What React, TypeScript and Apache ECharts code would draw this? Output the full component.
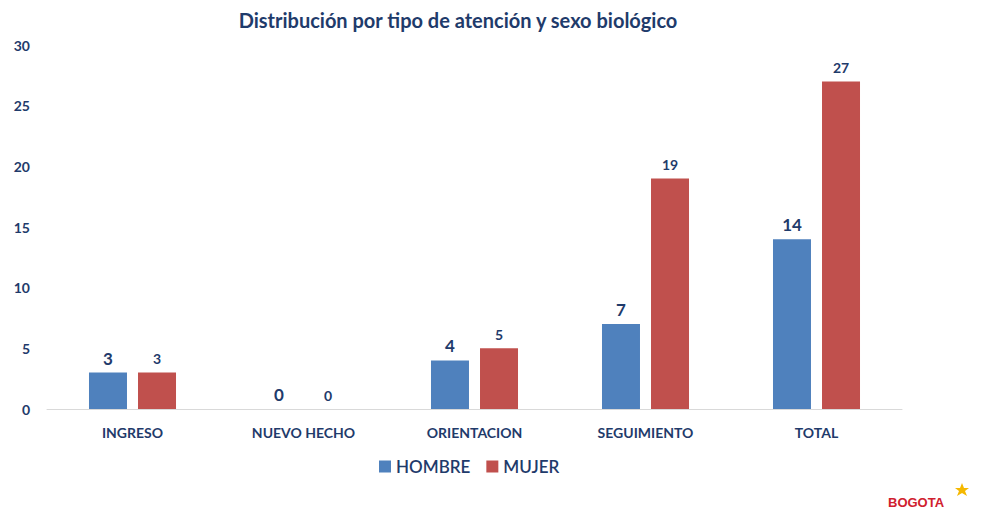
import React, { useEffect, useRef } from "react";
import * as echarts from "echarts";

const categories = ["INGRESO", "NUEVO HECHO", "ORIENTACION", "SEGUIMIENTO", "TOTAL"];
const hombre = [3, 0, 4, 7, 14];
const mujer = [3, 0, 5, 19, 27];
const yTicks = [0, 5, 10, 15, 20, 25, 30];

const NAVY = "#1f3b6b";
const FONT = "Lato, 'Open Sans', sans-serif";

export default function App() {
  const ref = useRef<HTMLDivElement>(null);
  useEffect(() => {
    if (!ref.current) return;
    const chart = echarts.init(ref.current, null, { renderer: "svg" });
    chart.setOption({
      animation: false,
      backgroundColor: "#ffffff",
      title: {
        text: "Distribución por tipo de atención y sexo biológico",
        left: 453,
        textAlign: "center",
        top: 5,
        textStyle: { color: NAVY, fontSize: 20, fontWeight: "bold", fontFamily: FONT },
      },
      grid: { left: 47, right: 80, top: 45, bottom: 102 },
      legend: {
        data: ["HOMBRE", "MUJER"],
        left: 374,
        top: 453,
        itemWidth: 12,
        itemHeight: 12,
        itemGap: 16,
        icon: "rect",
        textStyle: { color: NAVY, fontSize: 17, fontWeight: 600, fontFamily: FONT },
      },
      xAxis: {
        type: "category",
        data: categories,
        axisLine: { show: true, lineStyle: { color: "#d9d9d9", width: 1 } },
        axisTick: { show: false },
        axisLabel: { color: NAVY, fontSize: 14, fontWeight: "bold", fontFamily: FONT, margin: 16 },
      },
      yAxis: {
        type: "value",
        min: yTicks[0],
        max: yTicks[yTicks.length - 1],
        interval: 5,
        axisLine: { show: false },
        axisTick: { show: false },
        splitLine: { show: false },
        axisLabel: { color: NAVY, fontSize: 14, fontWeight: "bold", fontFamily: FONT, margin: 17 },
      },
      series: [
        {
          name: "HOMBRE",
          type: "bar",
          data: hombre,
          barWidth: 38,
          barGap: "29%",
          itemStyle: { color: "#4f81bd" },
          label: {
            show: true,
            position: "top",
            distance: 6,
            color: NAVY,
            fontSize: 17,
            fontWeight: "bold",
            fontFamily: FONT,
          },
        },
        {
          name: "MUJER",
          type: "bar",
          data: mujer,
          barWidth: 38,
          itemStyle: { color: "#c0504d" },
          label: {
            show: true,
            position: "top",
            distance: 7,
            color: NAVY,
            fontSize: 14,
            fontWeight: "bold",
            fontFamily: FONT,
          },
        },
      ],
      graphic: [
        {
          type: "text",
          left: 888,
          top: 496,
          style: {
            text: "BOGOTA",
            fill: "#d0202e",
            fontSize: 13,
            fontWeight: 900,
            fontFamily: "'Liberation Sans', Arial, sans-serif",
          },
        },
        {
          type: "polygon",
          shape: {
            points: [
              [962, 483], [964, 488], [969, 488], [965, 491], [967, 496],
              [962, 493], [957, 496], [959, 491], [955, 488], [960, 488],
            ],
          },
          style: { fill: "#f5b800" },
        },
      ],
    });
    return () => chart.dispose();
  }, []);
  return <div ref={ref} style={{ width: 982, height: 511, position: "absolute", left: 0, top: 0 }} />;
}
